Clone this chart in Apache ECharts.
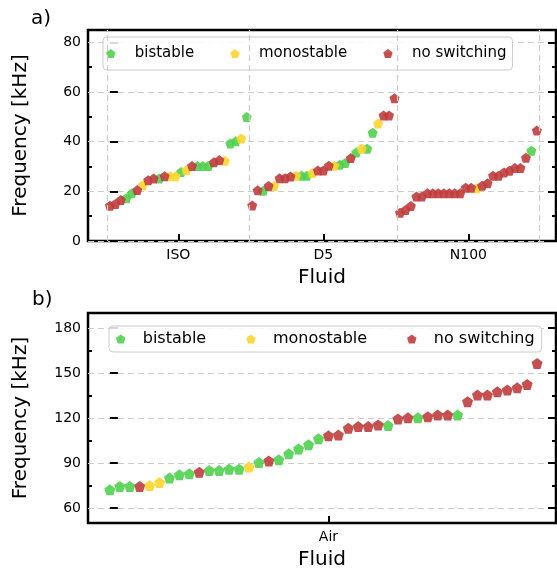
<!DOCTYPE html>
<html style="height: 100%">
<head>
<meta charset="utf-8" />
<title>Switching frequency per fluid</title>
<script src="https://cdn.jsdelivr.net/npm/echarts@6/dist/echarts.min.js"></script>
</head>
<body style="height: 100%; margin: 0">
<div id="container" style="width: 557px; height: 574px"></div>
<script type="text/javascript">
// panel a) - one list per fluid, points in plotting order
const fluids = ["ISO", "D5", "N100"];
const isoFreq = [14.2, 14.9, 16.5, 17.2, 19.2, 20.5, 22.5, 24.5, 25.2, 25.2, 26.1, 26.1, 26.1,
  27.8, 28.6, 30.2, 30.2, 30.2, 30.2, 31.7, 32.6, 32.3, 39.3, 40.2, 41.3, 50.0];
const isoState = ["n", "n", "n", "b", "b", "n", "m", "n", "n", "b", "n", "m", "m",
  "b", "m", "n", "b", "b", "b", "n", "n", "m", "b", "b", "m", "b"];
const d5Freq = [14.3, 20.4, 20.2, 22.2, 22.2, 25.3, 25.3, 26.0, 26.3, 26.3, 26.3, 27.4, 28.4, 28.4,
  30.3, 30.3, 30.7, 31.4, 33.4, 35.7, 37.2, 37.2, 43.6, 47.3, 50.6, 50.6, 57.5];
const d5State = ["n", "n", "b", "n", "m", "n", "n", "n", "m", "b", "b", "m", "n", "n",
  "n", "m", "b", "b", "n", "b", "m", "b", "b", "m", "n", "n", "n"];
const n100Freq = [11.4, 12.5, 14.1, 17.9, 17.9, 19.2, 19.2, 19.2, 19.2, 19.2, 19.2, 19.2, 21.5,
  21.5, 21.3, 22.3, 23.3, 26.3, 26.3, 27.6, 28.3, 29.4, 29.4, 33.5, 36.4, 44.5];
const n100State = ["n", "n", "n", "n", "n", "n", "n", "n", "n", "n", "n", "n", "n",
  "n", "m", "n", "n", "n", "n", "n", "n", "n", "n", "n", "b", "n"];

// panel b) - air
const airName = "Air";
const airFreq = [72.2, 74.4, 74.4, 74.4, 75.0, 77.0, 80.0, 82.1, 82.8, 83.9, 85.0, 85.0, 85.9, 85.9,
  87.3, 90.3, 91.4, 92.1, 96.1, 99.4, 102.1, 106.1, 108.1, 108.7, 113.2, 114.3, 114.3, 115.4,
  115.0, 119.4, 120.2, 120.2, 120.9, 122.0, 122.0, 122.0, 130.9, 135.3, 135.3, 137.5, 138.6,
  140.2, 142.4, 156.4];
const airState = ["b", "b", "b", "n", "m", "m", "b", "b", "b", "n", "b", "b", "b", "b",
  "m", "b", "n", "b", "b", "b", "b", "b", "n", "n", "n", "n", "n", "n",
  "b", "n", "n", "b", "n", "n", "n", "b", "n", "n", "n", "n", "n",
  "n", "n", "n"];

const stateKeys = ["b", "m", "n"];
const stateNames = ["bistable", "monostable", "no switching"];
const stateColors = ["#4fd24f", "#ffd52e", "#c03d3d"];

const yTicksA = [0, 20, 40, 60, 80];
const yMinorA = [10, 30, 50, 70];
const yTicksB = [60, 90, 120, 150, 180];
const yMinorB = [75, 105, 135, 165];

const font = "DejaVu Sans";
const pentagon = "path://M0,-50 L47.55,-15.45 L29.39,40.45 L-29.39,40.45 L-47.55,-15.45 Z";

// lay the fluids side by side on one running index
const groupsA = [[isoFreq, isoState], [d5Freq, d5State], [n100Freq, n100State]];
let pointsA = [];
let centersA = [];
let bordersA = [-0.5];
let start = 0;
groupsA.forEach(function (g) {
  g[0].forEach(function (f, i) {
    pointsA.push([start + i, f, g[1][i]]);
  });
  centersA.push(start + (g[0].length - 1) / 2);
  start += g[0].length;
  bordersA.push(start - 0.5);
});
const pointsB = airFreq.map(function (f, i) { return [i, f, airState[i]]; });
const centerB = airFreq.length / 2;

function yAxes(grid, min, max, major, minor) {
  const tick = function (vals, len) {
    return { show: true, inside: true, length: len, customValues: vals, lineStyle: { color: "#000", width: 2 } };
  };
  const base = { type: "value", gridIndex: grid, min: min, max: max, axisLine: { show: false },
    splitLine: { show: false }, axisLabel: { show: false } };
  return [
    Object.assign({}, base, {
      position: "left", axisTick: tick(major, 8),
      axisLabel: { show: true, customValues: major, margin: 7, fontSize: 14, color: "#000", fontFamily: font },
      splitLine: { show: true, lineStyle: { type: [6, 4], color: "#cccccc", width: 1.2 } },
      name: "Frequency [kHz]", nameLocation: "middle", nameGap: 57,
      nameTextStyle: { fontSize: 20, color: "#000", fontFamily: font }
    }),
    Object.assign({}, base, { position: "left", axisTick: tick(minor, 4) }),
    Object.assign({}, base, { position: "right", axisTick: tick(major, 8) }),
    Object.assign({}, base, { position: "right", axisTick: tick(minor, 4) })
  ];
}

function xAxis(grid, min, max, ticks, names) {
  return {
    type: "value", gridIndex: grid, min: min, max: max,
    axisLine: { show: false }, splitLine: { show: false },
    axisTick: { show: true, inside: true, length: 7, customValues: ticks, lineStyle: { color: "#000", width: 2 } },
    axisLabel: { customValues: ticks, margin: 7, fontSize: 14, color: "#000", fontFamily: font,
      formatter: function (v) { return names[ticks.indexOf(v)] || ""; } },
    name: "Fluid", nameLocation: "middle", nameGap: 27,
    nameTextStyle: { fontSize: 20, color: "#000", fontFamily: font }
  };
}

function scatter(points, key, k, xIdx, yIdx, size) {
  return {
    type: "scatter", name: stateNames[k], xAxisIndex: xIdx, yAxisIndex: yIdx,
    symbol: pentagon, symbolSize: size,
    itemStyle: { color: stateColors[k], opacity: 0.9 },
    data: points.filter(function (p) { return p[2] === key; }).map(function (p) { return [p[0], p[1]]; })
  };
}

let series = [];
stateKeys.forEach(function (key, k) {
  series.push(scatter(pointsA, key, k, 0, 0, 10));
});
stateKeys.forEach(function (key, k) {
  series.push(scatter(pointsB, key, k, 1, 4, 11));
});
// dashed separators between the fluids in panel a
series.push({
  type: "scatter", xAxisIndex: 0, yAxisIndex: 0, data: [], silent: true,
  markLine: { silent: true, symbol: "none", label: { show: false },
    lineStyle: { type: [6, 4], color: "#cccccc", width: 1.2 },
    data: bordersA.map(function (b) { return { xAxis: b }; }) }
});

function legend(left, top, padding, fontSize, textPad, gap) {
  return {
    left: left, top: top, orient: "horizontal", padding: padding, itemGap: gap,
    itemWidth: 14, itemHeight: 9,
    backgroundColor: "rgba(255,255,255,0.85)", borderColor: "#cccccc", borderWidth: 1, borderRadius: 4,
    textStyle: { fontSize: fontSize, color: "#000", fontFamily: font, padding: [0, 0, 0, textPad] },
    data: stateNames.map(function (n) { return { name: n, icon: pentagon }; })
  };
}

let chart = echarts.init(document.getElementById("container"));
chart.setOption({
  animation: false,
  title: [
    { text: "a)", left: 26, top: 4, textStyle: { fontSize: 20, fontWeight: "normal", color: "#000", fontFamily: font } },
    { text: "b)", left: 27, top: 285, textStyle: { fontSize: 20, fontWeight: "normal", color: "#000", fontFamily: font } }
  ],
  grid: [
    { left: 88, top: 30, width: 468, height: 211, show: true, borderColor: "#000", borderWidth: 2.5 },
    { left: 88, top: 313, width: 468, height: 210, show: true, borderColor: "#000", borderWidth: 2.5 }
  ],
  legend: [
    legend(103, 37, [9, 6, 9, 3], 15, 12, 36),
    legend(109, 326, [5, 7, 5, 7], 16, 10, 40)
  ],
  xAxis: [
    xAxis(0, -4, 81.5, centersA, fluids),
    xAxis(1, -2.2, 44.9, [centerB], [airName])
  ],
  yAxis: yAxes(0, 0, 85, yTicksA, yMinorA).concat(yAxes(1, 50, 190, yTicksB, yMinorB)),
  series: series
});
</script>
</body>
</html>
